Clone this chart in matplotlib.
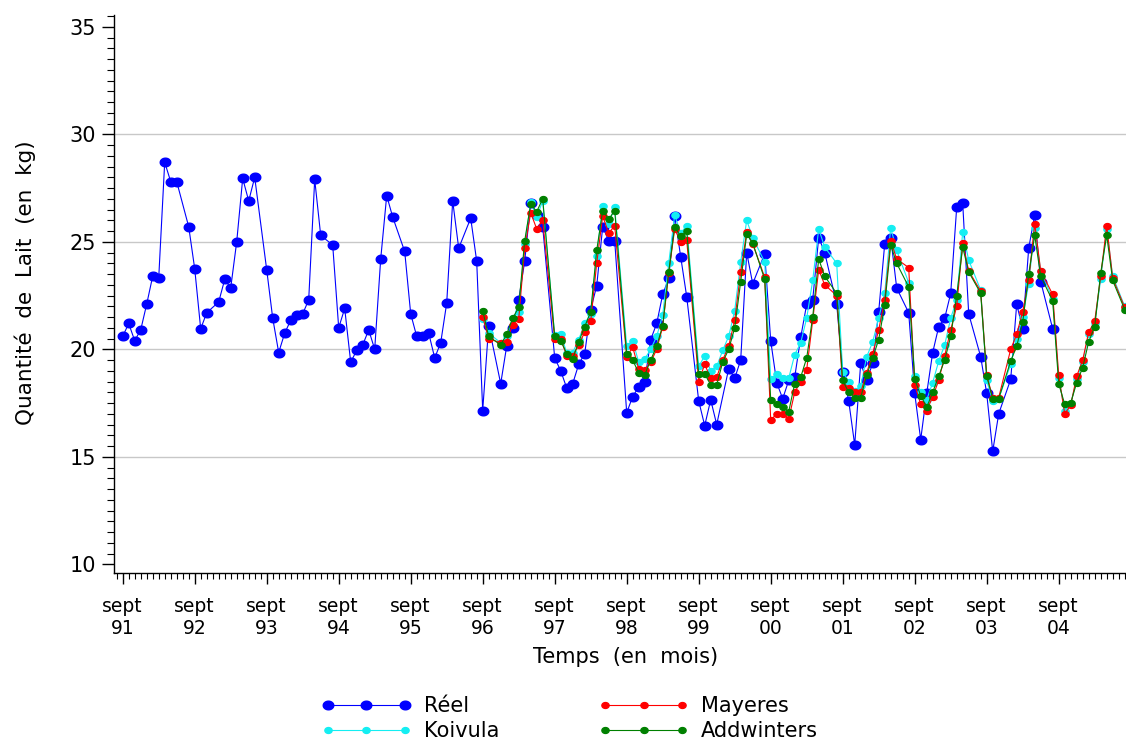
import numpy as np
import matplotlib
matplotlib.use("Agg")
import matplotlib.pyplot as plt
from matplotlib.ticker import MultipleLocator, FixedLocator
from matplotlib.path import Path

plt.rcParams['font.family'] = ['DejaVu Sans']

# ----- data (x = months since sept 91) -----
reel_mois = [0, 1, 2, 3, 4, 5, 6, 7, 8, 9, 11, 12, 13, 14, 16, 17, 18, 19, 20, 21, 22,
             24, 25, 26, 27, 28, 29, 30, 31, 32, 33, 35, 36, 37, 38, 39, 40, 41, 42, 43,
             44, 45, 47, 48, 49, 50, 51, 52, 53, 54, 55, 56, 58, 59, 60, 61, 63, 64, 65,
             66, 67, 68, 69, 70, 72, 73, 74, 75, 76, 77, 78, 79, 80, 81, 82, 84, 85, 86,
             87, 88, 89, 90, 91, 92, 93, 94, 96, 97, 98, 99, 101, 102, 103, 104, 105,
             107, 108, 109, 110, 111, 112, 113, 114, 115, 116, 117, 119, 120, 121, 122,
             123, 124, 125, 126, 127, 128, 129, 131, 132, 133, 134, 135, 136, 137, 138,
             139, 140, 141, 143, 144, 145, 146, 148, 149, 150, 151, 152, 153, 155]
reel = [20.6, 21.2, 20.4, 20.9, 22.1, 23.4, 23.3, 28.7, 27.8, 27.8, 25.7, 23.75, 20.95,
        21.7, 22.2, 23.25, 22.85, 25.0, 27.95, 26.9, 28.0, 23.7, 21.45, 19.85, 20.75,
        21.35, 21.6, 21.65, 22.3, 27.9, 25.3, 24.85, 21.0, 21.9, 19.4, 19.95, 20.2, 20.9,
        20.0, 24.2, 27.15, 26.15, 24.55, 21.65, 20.6, 20.6, 20.75, 19.6, 20.3, 22.15, 26.9,
        24.7, 26.1, 24.1, 17.15, 21.1, 18.4, 20.15, 21.0, 22.3, 24.1, 26.8, 26.25, 25.7,
        19.6, 19.0, 18.2, 18.4, 19.3, 19.8, 21.85, 22.95, 25.7, 25.05, 25.05, 17.05, 17.8,
        18.25, 18.5, 20.45, 21.2, 22.55, 23.3, 26.2, 24.3, 22.45, 17.6, 16.45, 17.65,
        16.5, 19.1, 18.65, 19.5, 24.5, 23.05, 24.45, 20.4, 18.45, 17.7, 18.55, 18.7, 20.55,
        22.1, 22.3, 25.2, 24.5, 22.1, 18.95, 17.6, 15.55, 19.35, 18.55, 19.35, 21.75, 24.9,
        25.2, 22.85, 21.7, 17.95, 15.8, 17.95, 19.85, 21.05, 21.45, 22.6, 26.6, 26.8, 21.65,
        19.65, 17.95, 15.25, 17.0, 18.6, 22.1, 20.95, 24.7, 26.25, 23.15, 20.95]

prev_mois = [60, 61, 63, 64, 65, 66, 67, 68, 69, 70, 72, 73, 74, 75, 76, 77, 78, 79, 80,
             81, 82, 84, 85, 86, 87, 88, 89, 90, 91, 92, 93, 94, 96, 97, 98, 99, 100, 101,
             102, 103, 104, 105, 107, 108, 109, 110, 111, 112, 113, 114, 115, 116, 117,
             119, 120, 121, 122, 123, 124, 125, 126, 127, 128, 129, 131, 132, 133, 134,
             135, 136, 137, 138, 139, 140, 141, 143, 144, 145, 146, 148, 149, 150, 151,
             152, 153, 155, 156, 157, 158, 159, 160, 161, 162, 163, 164, 165, 167]
koivula = [21.4, 20.75, 20.3, 20.6, 21.45, 21.75, 24.9, 26.85, 26.15, 26.9, 20.65, 20.7,
           19.85, 19.85, 20.45, 21.2, 21.65, 24.35, 26.65, 25.85, 26.6, 20.15, 20.4, 19.4,
           19.55, 20.0, 20.6, 21.6, 24.0, 26.25, 25.4, 25.75, 19.2, 19.7, 19.0, 19.2, 19.95,
           20.6, 21.8, 24.05, 26.0, 25.2, 24.05, 18.6, 18.85, 18.65, 18.65, 19.75, 20.3,
           21.45, 23.2, 25.6, 24.75, 24.0, 18.95, 18.5, 18.05, 18.3, 19.65, 20.35, 21.45,
           22.6, 25.65, 24.6, 23.1, 18.75, 18.0, 17.65, 18.45, 19.45, 20.2, 21.45, 22.3,
           25.45, 24.15, 22.75, 18.55, 17.6, 17.7, 19.3, 20.5, 21.5, 23.05, 25.65, 23.65,
           22.35, 18.65, 17.15, 17.45, 18.6, 19.4, 20.7, 21.2, 23.25, 25.6, 23.4, 22.0]
mayeres = [21.5, 20.5, 20.3, 20.35, 21.15, 21.4, 24.7, 26.35, 25.6, 26.0, 20.5, 20.5,
           19.7, 19.7, 20.2, 20.8, 21.3, 24.0, 26.2, 25.4, 25.75, 19.65, 20.1, 19.1, 19.05,
           19.4, 20.0, 21.05, 23.55, 25.6, 25.0, 25.1, 18.5, 19.3, 18.65, 18.7, 19.5,
           20.15, 21.35, 23.6, 25.45, 24.9, 23.35, 16.7, 17.0, 17.0, 16.75, 18.0, 18.5,
           19.05, 21.35, 23.7, 23.0, 22.5, 18.25, 18.2, 18.0, 18.0, 18.9, 19.8, 20.9, 22.3,
           25.05, 24.2, 23.8, 18.35, 17.45, 17.15, 17.8, 18.55, 19.7, 20.9, 22.0, 24.95,
           23.65, 22.7, 18.8, 17.75, 17.75, 20.0, 20.7, 21.75, 23.2, 25.85, 23.65, 22.55,
           18.8, 17.0, 17.4, 18.75, 19.5, 20.8, 21.3, 23.4, 25.75, 23.3, 21.95]
addwinters = [21.8, 20.6, 20.2, 20.7, 21.45, 21.95, 25.05, 26.75, 26.4, 27.0, 20.6, 20.4,
              19.8, 19.55, 20.35, 21.05, 21.75, 24.6, 26.45, 26.05, 26.45, 19.8, 19.5, 18.9,
              18.8, 19.5, 20.15, 21.1, 23.6, 25.7, 25.25, 25.5, 18.85, 18.85, 18.35, 18.35,
              19.4, 20.0, 21.0, 23.15, 25.35, 24.95, 23.25, 17.65, 17.45, 17.3, 17.1, 18.4,
              18.7, 19.6, 21.5, 24.2, 23.4, 22.6, 18.55, 18.0, 17.75, 17.75, 18.8, 19.6,
              20.45, 22.05, 24.85, 24.0, 22.9, 18.6, 17.85, 17.3, 18.0, 18.75, 19.5, 20.6,
              22.5, 24.75, 23.6, 22.6, 18.75, 17.7, 17.7, 19.45, 20.15, 21.25, 23.5, 25.3,
              23.4, 22.25, 18.4, 17.45, 17.5, 18.45, 19.15, 20.35, 21.05, 23.55, 25.3,
              23.2, 21.85]

annees = ["91", "92", "93", "94", "95", "96", "97", "98", "99", "00", "01", "02", "03", "04"]

# the original picture is slightly stretched sideways: oval markers
t = np.linspace(0, 2 * np.pi, 41)
ovale = Path(np.column_stack([1.22 * np.cos(t), np.sin(t)]), closed=True)

fig = plt.figure(figsize=(11.26, 7.44), dpi=100)
# axes run a little past the right edge of the picture
ax = fig.add_axes([114 / 1126, 1 - 573.3 / 744, 1024 / 1126, (573.3 - 15) / 744])

for g in [15, 20, 25, 30]:
    ax.axhline(g, color="#c8c8c8", lw=1.0, zorder=0)

ax.plot(reel_mois, reel, "-", marker=ovale, color="#0000ff", lw=0.8, ms=7.6,
        label="Réel", zorder=2)
ax.plot(prev_mois, koivula, "-", marker=ovale, color="#14eef2", lw=0.8, ms=5.2,
        label="Koivula", zorder=3)
ax.plot(prev_mois, mayeres, "-", marker=ovale, color="#ff0000", lw=0.8, ms=5.2,
        label="Mayeres", zorder=4)
ax.plot(prev_mois, addwinters, "-", marker=ovale, color="#008000", lw=0.8, ms=5.2,
        label="Addwinters", zorder=5)

ax.set_xlim((114 - 122.7) / 6.0, (1138 - 122.7) / 6.0)
ax.set_ylim(9.58, 35.55)

ax.yaxis.set_major_locator(FixedLocator([10, 15, 20, 25, 30, 35]))
ax.yaxis.set_minor_locator(MultipleLocator(0.5))
ax.set_xticks([12 * i for i in range(len(annees))])
ax.set_xticklabels(["sept\n" + a for a in annees])
ax.xaxis.set_minor_locator(MultipleLocator(1))

ax.tick_params(axis="y", which="major", length=9, width=1, pad=4, labelsize=15)
ax.tick_params(axis="y", which="minor", length=5, width=0.8)
ax.tick_params(axis="x", which="major", length=8, width=1, pad=9, labelsize=13.5)
ax.tick_params(axis="x", which="minor", length=4, width=0.8)

ax.spines["top"].set_visible(False)
ax.spines["right"].set_visible(False)
for s in ax.spines.values():
    s.set_linewidth(1.0)

ax.set_xlabel("Temps  (en  mois)", fontsize=15)
ax.xaxis.set_label_coords(0.5, (573.3 - 647) / 558.3)
ax.set_ylabel("Quantité  de  Lait  (en  kg)", fontsize=15.5)
ax.yaxis.set_label_coords((36 - 114) / 1024, (573.3 - 283) / 558.3)

h, l = ax.get_legend_handles_labels()
fig.legend(h, l, ncol=2, loc="upper left", bbox_to_anchor=(311 / 1126, 1 - 686 / 744),
           frameon=False, fontsize=15, numpoints=3, handlelength=4.3, handletextpad=0.6,
           columnspacing=4.8, borderpad=0, labelspacing=0.24, markerscale=1.0)

fig.savefig("out.png", dpi=100)
